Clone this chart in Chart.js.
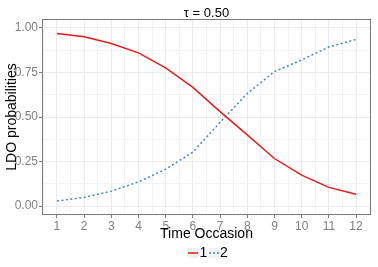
<!DOCTYPE html>
<html>
<head>
<meta charset="utf-8">
<script src="https://cdn.jsdelivr.net/npm/chart.js@4"></script>
<style>
  html, body { margin: 0; padding: 0; background: #fff; }
  #wrap { width: 378px; height: 267px; position: relative; }
</style>
</head>
<body>
<div id="wrap"><canvas id="chart" width="378" height="267"></canvas></div>
<script>
// dados
const occasions = [1, 2, 3, 4, 5, 6, 7, 8, 9, 10, 11, 12];
const grupo1 = [0.968, 0.950, 0.912, 0.860, 0.776, 0.666, 0.530, 0.400, 0.267, 0.174, 0.105, 0.066];
const grupo2 = [0.028, 0.049, 0.084, 0.136, 0.207, 0.303, 0.470, 0.632, 0.755, 0.820, 0.893, 0.935];
const yTicks = [0, 0.25, 0.5, 0.75, 1];
const tituloTau = 'τ = 0.50';
const tituloX = 'Time Occasion';
const tituloY = 'LDO probabilities';
const legendas = ['1', '2'];

const FONTE = '"Liberation Sans", Arial, sans-serif';
const corVermelha = '#e8191f';
const corAzul = '#4289d2';
const cinza = '#808080';

const toXY = (vals) => vals.map((v, i) => ({x: occasions[i], y: v}));

// borda do painel, títulos e legenda
const extras = {
  id: 'extras',
  afterDraw(chart) {
    const c = chart.ctx;
    const a = chart.chartArea;
    c.save();
    c.strokeStyle = '#7a7a7a';
    c.lineWidth = 1;
    c.strokeRect(a.left + 0.5, a.top + 0.5, a.right - a.left - 1, a.bottom - a.top - 1);

    const cx = (a.left + a.right) / 2;
    c.fillStyle = '#000';
    c.textAlign = 'center';
    c.textBaseline = 'middle';
    c.font = '13px ' + FONTE;
    c.fillText(tituloTau, cx, 13);
    c.font = '14px ' + FONTE;
    c.fillText(tituloX, cx, 234);

    c.save();
    c.translate(12, (a.top + a.bottom) / 2);
    c.rotate(-Math.PI / 2);
    c.fillText(tituloY, 0, 0);
    c.restore();

    // legenda
    c.fillStyle = '#f2f2f2';
    c.fillRect(187.5, 248, 11, 10);
    c.fillRect(208.5, 248, 11, 10);
    c.lineWidth = 1.5;
    c.strokeStyle = corVermelha;
    c.beginPath(); c.moveTo(188, 253); c.lineTo(198, 253); c.stroke();
    c.strokeStyle = corAzul;
    c.setLineDash([2, 2]);
    c.beginPath(); c.moveTo(209, 253); c.lineTo(219, 253); c.stroke();
    c.setLineDash([]);
    c.fillStyle = '#000';
    c.textAlign = 'left';
    c.font = '14px ' + FONTE;
    c.fillText(legendas[0], 199.5, 253.5);
    c.fillText(legendas[1], 220, 253.5);
    c.restore();
  }
};

const config = {
  type: 'line',
  data: {
    datasets: [{
      label: legendas[0],
      data: toXY(grupo1),
      borderColor: corVermelha,
      borderWidth: 1.5,
      pointRadius: 0,
      tension: 0
    }, {
      label: legendas[1],
      data: toXY(grupo2),
      borderColor: corAzul,
      borderWidth: 1.5,
      borderDash: [2, 2.5],
      pointRadius: 0,
      tension: 0
    }]
  },
  options: {
    responsive: false,
    animation: false,
    layout: { padding: { top: 19, right: 7, left: 0, bottom: 0 } },
    plugins: { legend: { display: false }, tooltip: { enabled: false } },
    scales: {
      x: {
        type: 'linear',
        min: 0.45,
        max: 12.55,
        afterBuildTicks: (s) => {
          const t = [];
          for (let v = 0.5; v <= 12.5; v += 0.5) t.push({value: v});
          s.ticks = t;
        },
        afterFit: (s) => { s.height = 52; },
        border: { display: false },
        grid: {
          color: (ctx) => Number.isInteger(ctx.tick && ctx.tick.value) ? '#ebebeb' : '#f4f4f4',
          tickColor: (ctx) => Number.isInteger(ctx.tick && ctx.tick.value) ? cinza : 'rgba(0,0,0,0)',
          tickLength: 3,
          lineWidth: 1
        },
        ticks: {
          autoSkip: false,
          maxRotation: 0,
          padding: 1,
          color: cinza,
          font: { family: FONTE, size: 12 },
          callback: (v) => Number.isInteger(v) ? String(v) : ''
        }
      },
      y: {
        min: -0.05,
        max: 1.05,
        afterBuildTicks: (s) => {
          const t = [];
          for (let v = 0; v <= 1.0001; v += 0.125) t.push({value: v});
          s.ticks = t;
        },
        afterFit: (s) => { s.width = 42; },
        border: { display: false },
        grid: {
          color: (ctx) => yTicks.some(v => Math.abs(v - ctx.tick.value) < 1e-6) ? '#ebebeb' : '#f4f4f4',
          tickColor: (ctx) => yTicks.some(v => Math.abs(v - ctx.tick.value) < 1e-6) ? cinza : 'rgba(0,0,0,0)',
          tickLength: 3,
          lineWidth: 1
        },
        ticks: {
          autoSkip: false,
          padding: 1,
          color: cinza,
          font: { family: FONTE, size: 12 },
          callback: (v) => yTicks.some(t => Math.abs(t - v) < 1e-6) ? v.toFixed(2) : ''
        }
      }
    }
  },
  plugins: [extras]
};

const myChart = new Chart(document.getElementById('chart'), config);
</script>
</body>
</html>
